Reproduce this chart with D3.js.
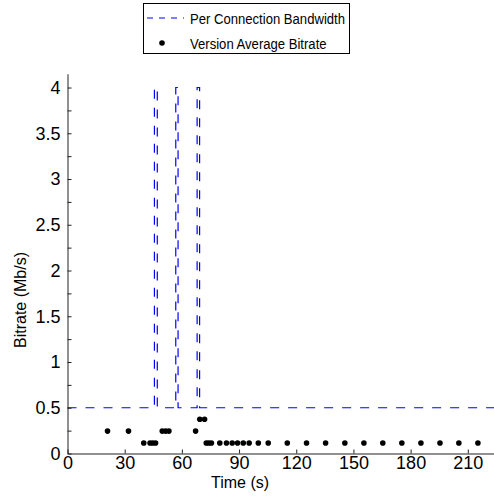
<!DOCTYPE html>
<html>
<head>
<meta charset="utf-8">
<script src="https://cdn.jsdelivr.net/npm/d3@7"></script>
<style>
  html, body { margin: 0; padding: 0; background: #fff; }
  svg { display: block; font-family: "Liberation Sans", Arial, sans-serif; }
</style>
</head>
<body>
<svg id="chart" width="494" height="504"></svg>
<script>
// ---- data ----
const bandwidthTime = [0, 45.6, 45.6, 47.1, 47.1, 56.8, 56.8, 58.0, 58.0, 68.0, 68.0, 69.3, 69.3, 225];
const bandwidthValue = [0.5, 0.5, 4, 4, 0.5, 0.5, 4, 4, 0.5, 0.5, 4, 4, 0.5, 0.5];

const bitrateTime = [21, 32, 40, 43.3, 44.7, 46.2, 49.7, 51.5, 53.2, 67.2, 69.4, 71.9,
  72.8, 74.1, 75.5, 79.9, 83.4, 86.4, 89.2, 92.2, 95.3, 100.1, 105.3, 115.3, 125.4,
  135.4, 145.5, 155.5, 165.4, 175.4, 185.4, 195.4, 205.3, 215.3];
const bitrateValue = [0.245, 0.245, 0.115, 0.115, 0.115, 0.115, 0.245, 0.245, 0.245, 0.245, 0.375, 0.375,
  0.115, 0.115, 0.115, 0.115, 0.115, 0.115, 0.115, 0.115, 0.115, 0.115, 0.115, 0.115, 0.115,
  0.115, 0.115, 0.115, 0.115, 0.115, 0.115, 0.115, 0.115, 0.115];

const xTicks = [0, 30, 60, 90, 120, 150, 180, 210];
const yTicks = [0, 0.5, 1, 1.5, 2, 2.5, 3, 3.5, 4];
const yMinorTicks = [0.25, 0.75, 1.25, 1.75, 2.25, 2.75, 3.25, 3.75];
const legendLabels = ["Per Connection Bandwidth", "Version Average Bitrate"];
const xLabel = "Time (s)";
const yLabel = "Bitrate (Mb/s)";

// ---- layout ----
const svg = d3.select("#chart");
const x = d3.scaleLinear().domain([0, 225]).range([67.5, 496.4]);
const y = d3.scaleLinear().domain([0, 4.15]).range([453.5, 73.8]);

// bandwidth line
const line = d3.line().x(d => x(d[0])).y(d => y(d[1]));
svg.append("path")
  .datum(d3.zip(bandwidthTime, bandwidthValue))
  .attr("d", line)
  .attr("fill", "none")
  .attr("stroke", "#0000ff")
  .attr("stroke-width", 1.2)
  .attr("stroke-dasharray", "9,9");

// dots
svg.append("g").selectAll("circle")
  .data(d3.zip(bitrateTime, bitrateValue))
  .join("circle")
  .attr("cx", d => x(d[0]))
  .attr("cy", d => y(d[1]))
  .attr("r", 2.8)
  .attr("fill", "#000");

// axes
const xAxis = d3.axisBottom(x).tickValues(xTicks).tickSizeInner(-4).tickSizeOuter(0).tickPadding(5)
  .tickFormat(d3.format("d"));
const gx = svg.append("g").attr("transform", `translate(0,${y(0)})`).call(xAxis);
gx.select(".domain").attr("stroke", "#222");
gx.selectAll(".tick line").attr("stroke", "#222");
gx.selectAll("text").attr("font-size", 18).attr("fill", "#000").attr("dy", "0.6em");

const yAxis = d3.axisLeft(y).tickValues(yTicks).tickSizeInner(-4).tickSizeOuter(0).tickPadding(7)
  .tickFormat(d => d3.format("")(d));
const gy = svg.append("g").attr("transform", `translate(${x(0)},0)`).call(yAxis);
gy.select(".domain").attr("stroke", "#222");
gy.selectAll(".tick line").attr("stroke", "#222");
gy.selectAll("text").attr("font-size", 18).attr("fill", "#000");

const yMinor = d3.axisLeft(y).tickValues(yMinorTicks).tickSizeInner(-4).tickSizeOuter(0).tickFormat("");
const gym = svg.append("g").attr("transform", `translate(${x(0)},0)`).call(yMinor);
gym.select(".domain").remove();
gym.selectAll(".tick line").attr("stroke", "#222");

// axis labels
svg.append("text").attr("x", 240).attr("y", 488).attr("text-anchor", "middle")
  .attr("font-size", 16).text(xLabel);
svg.append("text").attr("transform", "translate(26,300) rotate(-90)").attr("text-anchor", "middle")
  .attr("font-size", 16).text(yLabel);

// legend
const lg = svg.append("g");
lg.append("rect").attr("x", 143.5).attr("y", 3.5).attr("width", 206).attr("height", 50)
  .attr("fill", "#fff").attr("stroke", "#000").attr("stroke-width", 1);
lg.append("line").attr("x1", 147).attr("x2", 184).attr("y1", 18).attr("y2", 18)
  .attr("stroke", "#0000ff").attr("stroke-width", 1.2).attr("stroke-dasharray", "6,6");
lg.append("circle").attr("cx", 162).attr("cy", 43).attr("r", 2.8).attr("fill", "#000");
const t1 = lg.append("text").attr("x", 190).attr("y", 23.5).attr("font-size", 15.5).text(legendLabels[0]);
const t2 = lg.append("text").attr("x", 190).attr("y", 48.5).attr("font-size", 15.5).text(legendLabels[1]);
const len1 = t1.node().getComputedTextLength();
const len2 = t2.node().getComputedTextLength();
const k = 155 / len1;
t1.attr("textLength", len1 * k).attr("lengthAdjust", "spacingAndGlyphs");
t2.attr("textLength", len2 * k).attr("lengthAdjust", "spacingAndGlyphs");
</script>
</body>
</html>
